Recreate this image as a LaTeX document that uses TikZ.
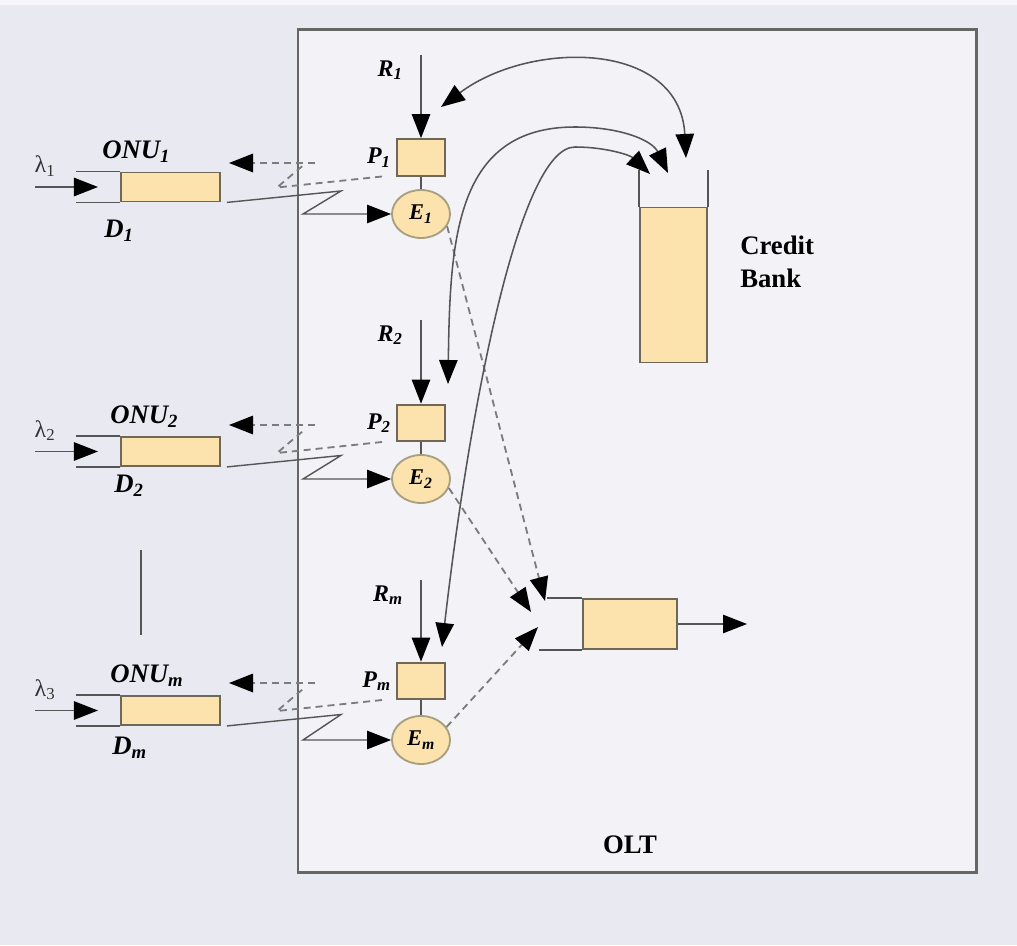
\documentclass[tikz,border=0pt]{standalone}
\usepackage{fontspec}
\setmainfont{Liberation Serif}
\usetikzlibrary{arrows.meta,shapes.geometric,calc}
\definecolor{bgc}{HTML}{E9E9F2}
\definecolor{oltc}{HTML}{F3F3F7}
\definecolor{boxc}{HTML}{FCE3AE}
\definecolor{edgec}{HTML}{6E6858}
\definecolor{eedge}{HTML}{A89E80}
\definecolor{linec}{HTML}{555555}
\definecolor{dashc}{HTML}{7C7C7C}
\begin{document}
\begin{tikzpicture}[x=0.025cm,y=-0.025cm,
  >={Triangle[length=6mm,width=4.6mm,color=black]},
  line/.style={draw=linec, line width=1pt},
  wall/.style={draw=linec, line width=1.2pt},
  dline/.style={draw=dashc, line width=1.3pt, dash pattern=on 5pt off 3.5pt},
  cline/.style={draw=linec, line width=1.1pt},
  queue/.style={draw=edgec, line width=1.3pt, fill=boxc, minimum width=2.475cm, minimum height=0.725cm, inner sep=0},
  pbox/.style={draw=edgec, line width=1.3pt, fill=boxc, minimum width=1.2cm, minimum height=0.92cm, inner sep=0},
  ebox/.style={ellipse, draw=eedge, line width=1.3pt, fill=boxc, minimum width=1.45cm, minimum height=1.2cm, inner sep=0, font=\fontsize{16}{18}\selectfont\bfseries\itshape},
  onulab/.style={font=\fontsize{19}{22}\selectfont\bfseries\itshape, inner sep=0},
  rlab/.style={font=\fontsize{17}{20}\selectfont\bfseries\itshape, inner sep=0},
  lamlab/.style={font=\fontsize{17}{19}\selectfont, text=black!80, inner sep=0},
  banklab/.style={font=\fontsize{19}{23.5}\selectfont\bfseries, inner sep=0}
]
\path[use as bounding box, fill=bgc] (0,0) rectangle (1017,945);
\fill[white!60!bgc] (0,0) rectangle (1017,5);
\node[draw=black!60, line width=2pt, fill=oltc, minimum width=16.95cm, minimum height=21.05cm, inner sep=0] (olt) at (637,451) {};
\node[banklab] (oltl) at (630,845) {OLT};

\foreach \i/\qy/\py/\ey/\ry/\dy/\sub/\lam/\ox/\dx/\ddy in {1/187/157.5/214/55/163/1/1/102/104/231, 2/451.5/423/479/320/425/2/2/110/114/486, m/710.5/681/740/580/683/m/3/110/112/748} {
  \node[queue] (q\i) at (170.5,\qy) {};
  \draw[wall] (q\i.north west) -- ++(-44,0);
  \draw[wall] (q\i.south west) -- ++(-44,0);
  \coordinate (in\i) at (35,\qy);
  \draw[line,->] (in\i) -- ++(63,0);
  \node[onulab, anchor=west] (onu\i) at (\ox,\qy-35) {ONU\textsubscript{\sub}};
  \node[onulab, anchor=west] (d\i) at (\dx,\ddy) {D\textsubscript{\sub}};
  \node[lamlab] (l\i) at (45,\qy-21) {λ\textsubscript{\lam}};
  \node[pbox] (p\i) at (421,\py) {};
  \node[ebox] (e\i) at (421,\ey) {E\textsubscript{\sub}};
  \draw[line] (p\i) -- (e\i);
  \node[rlab, anchor=east] (pl\i) at (391,\py) {P\textsubscript{\sub}};
  \coordinate (r\i) at (421,\ry);
  \draw[line,->] (r\i) -- (p\i.north);
  \node[rlab, anchor=east] (rl\i) at (403,\ry+15) {R\textsubscript{\sub}};
  \coordinate (fa\i) at (382,\py+19);
  \coordinate (fb\i) at (277,\py+30);
  \coordinate (fc\i) at (303,\py+8);
  \draw[dline] (fa\i) -- (fb\i) -- (fc\i);
  \coordinate (fd\i) at (315,\dy);
  \draw[dline,->] (fd\i) -- ++(-86,0);
  \coordinate (za\i) at ($(q\i.south east)+(6,0)$);
  \coordinate (zb\i) at (341,\qy+4);
  \coordinate (zc\i) at (303,\ey);
  \draw[line,->] (za\i) -- (zb\i) -- (zc\i) -- (e\i.west);
}

\coordinate (va) at (141,550);
\coordinate (vb) at (141,635);
\draw[line, line width=1.3pt] (va) -- (vb);

% credit bank
\node[draw=edgec, line width=1.3pt, fill=boxc, minimum width=1.675cm, minimum height=3.875cm, inner sep=0] (cb) at (673.5,285) {};
\draw[wall] (cb.north west) -- ++(0,-37);
\draw[wall] (cb.north east) -- ++(0,-37);
\node[banklab, anchor=west, align=left] (cbl) at (740,262) {Credit\\Bank};

% output queue
\node[draw=edgec, line width=1.3pt, fill=boxc, minimum width=2.35cm, minimum height=1.25cm, inner sep=0] (oq) at (630,624) {};
\draw[wall] (oq.north west) -- ++(-35,0);
\draw[wall] (oq.south west) -- ++(-43,0);
\coordinate (oqo) at (747,624);
\draw[line,->] (oq.east) -- (oqo);

% dashed to output
\coordinate (t1) at (545,601);
\coordinate (t2) at (531,612);
\coordinate (t3) at (538,627);
\draw[dline,->] (e1.-25) -- (t1);
\draw[dline,->] (e2.-18) -- (t2);
\draw[dline,->] (em.27) -- (t3);

% curves to credit bank
\coordinate (c1a) at (441,107);
\coordinate (c1b) at (686,158);
\draw[cline,<->] (c1a) .. controls (530,40) and (680,40) .. (c1b);
\coordinate (c2a) at (668,173);
\coordinate (c2b) at (448,384);
\draw[cline,<->] (c2b) .. controls (450,240) and (455,127) .. (575,127) .. controls (620,127) and (652,140) .. (c2a);
\coordinate (c3a) at (650,174);
\coordinate (c3b) at (442,647);
\draw[cline,<->] (c3b) .. controls (468,420) and (518,147) .. (575,147) .. controls (605,147) and (630,155) .. (c3a);
\end{tikzpicture}
\end{document}
